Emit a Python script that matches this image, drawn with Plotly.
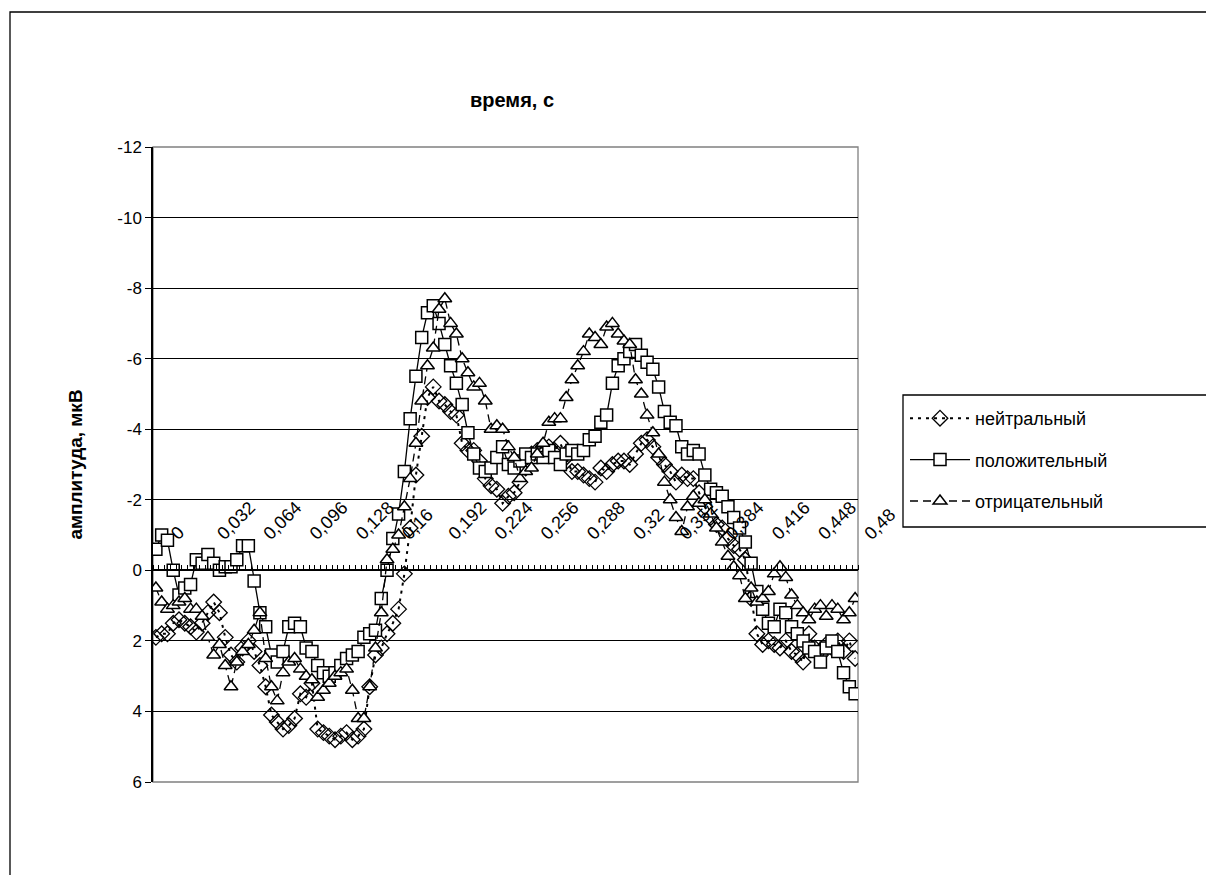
import plotly.graph_objects as go

# time categories (s), step 0.004
times = [round(i * 0.004, 3) for i in range(122)]
cat_labels = [("%g" % t).replace(".", ",") for t in times]
labelled_times = [0, 0.032, 0.064, 0.096, 0.128, 0.16, 0.192, 0.224, 0.256,
                  0.288, 0.32, 0.352, 0.384, 0.416, 0.448, 0.48]

neutral = [1.9, 1.8, 1.8, 1.5, 1.4, 1.5, 1.6, 1.75, 1.5, 1.2,
           0.9, 1.2, 1.9, 2.4, 2.6, 2.2, 2.0, 2.3, 2.7, 3.3,
           4.1, 4.3, 4.5, 4.4, 4.2, 3.5, 3.6, 3.2, 4.5, 4.6,
           4.7, 4.8, 4.7, 4.6, 4.8, 4.7, 4.5, 3.3, 2.4, 2.2,
           1.8, 1.5, 1.1, 0.1, -1.2, -2.7, -3.8, -4.9, -5.2, -4.8,
           -4.7, -4.5, -4.4, -3.6, -3.4, -3.4, -3.1, -2.6, -2.4, -2.3,
           -1.9, -2.1, -2.2, -2.5, -2.9, -3.3, -3.4, -3.5, -3.5, -3.4,
           -3.6, -3.2, -2.8, -2.8, -2.7, -2.6, -2.5, -2.9, -2.8, -3.0,
           -3.1, -3.1, -3.0, -3.3, -3.6, -3.7, -3.5, -3.2, -3.0, -2.8,
           -2.5, -2.7, -2.6, -2.6, -2.2, -1.8, -1.5, -1.3, -1.2, -0.9,
           -0.7, -0.6, -0.3, 0.8, 1.8, 2.1, 2.0, 2.1, 2.2, 2.0,
           2.3, 2.4, 2.6, 1.8, 2.2, 2.4, 2.1, 2.2, 2.0, 2.3,
           2.0, 2.5]

positive = [-0.6, -1.0, -0.85, 0.0, 0.7, 0.5, 0.4, -0.3, -0.2, -0.45,
            -0.2, 0.0, -0.1, -0.1, -0.3, -0.7, -0.7, 0.3, 1.2, 1.6,
            2.4, 2.6, 2.3, 1.6, 1.5, 1.6, 2.2, 2.3, 2.7, 2.9,
            3.0, 2.9, 2.7, 2.5, 2.4, 2.3, 1.9, 1.8, 1.7, 0.8,
            0.0, -0.9, -1.6, -2.8, -4.3, -5.5, -6.6, -7.3, -7.5, -7.0,
            -6.4, -5.8, -5.3, -4.7, -3.9, -3.3, -2.9, -2.8, -2.9, -3.2,
            -3.5, -3.0, -2.9, -3.1, -3.3, -3.2, -3.3, -3.2, -3.4, -3.2,
            -3.0, -3.3, -3.4, -3.3, -3.4, -3.7, -3.8, -4.2, -4.4, -5.3,
            -5.8, -6.0, -6.2, -6.4, -6.1, -5.9, -5.7, -5.2, -4.5, -4.2,
            -4.1, -3.5, -3.3, -3.4, -3.3, -2.7, -2.3, -2.2, -2.1, -1.8,
            -1.5, -1.2, -0.8, -0.2, 0.6, 1.1, 1.5, 1.6, 1.1, 1.2,
            1.6, 1.8, 2.0, 2.2, 2.3, 2.6, 2.2, 2.0, 2.3, 2.9,
            3.3, 3.5]

negative = [0.5, 0.9, 1.1, 1.0, 0.9, 0.8, 1.1, 1.1, 1.3, 1.9,
            2.4, 2.1, 2.7, 3.3, 2.6, 2.3, 2.1, 1.7, 1.2, 2.5,
            3.3, 3.7, 2.9, 2.6, 2.5, 2.8, 3.0, 3.1, 3.6, 3.4,
            3.2, 3.0, 2.9, 2.8, 3.4, 4.2, 4.2, 3.3, 2.2, 1.2,
            -0.3, -0.6, -1.0, -1.8, -2.6, -3.6, -4.8, -5.8, -6.3, -7.4,
            -7.7, -7.0, -6.7, -6.0, -5.6, -5.2, -5.3, -4.8, -4.0, -4.1,
            -4.0, -3.5, -3.2, -2.6, -2.8, -2.9, -3.3, -3.6, -4.2, -4.3,
            -4.3, -4.9, -5.4, -5.8, -6.2, -6.7, -6.6, -6.4, -6.9, -7.0,
            -6.7, -6.5, -6.4, -5.4, -5.0, -4.4, -3.9, -3.3, -2.5, -2.0,
            -1.5, -1.1, -1.8, -2.1, -1.9, -2.0, -1.6, -1.2, -0.8, -0.4,
            -0.1, 0.15, 0.8, 0.5, 0.9, 0.8, 0.6, 0.1, -0.1, 0.2,
            0.7, 1.0, 1.2, 1.4, 1.1, 1.0, 1.3, 1.0, 1.1, 1.4,
            1.2, 0.8]

y_ticks = [-12, -10, -8, -6, -4, -2, 0, 2, 4, 6]
y_ticktext = [str(v) for v in y_ticks]

FONT = "Liberation Sans, Arial, sans-serif"

# page is offset by the 8px body margin -> figure is 8px smaller
W, H = 1206, 867
ML, MR, MT, MB = 145, 1206 - 850, 139, 867 - 774
PW, PH = W - ML - MR, H - MT - MB


def px_x(x):  # figure pixel -> paper x
    return (x - ML) / PW


def px_y(y):  # figure pixel -> paper y
    return (H - MB - y) / PH


fig = go.Figure()
fig.add_trace(go.Scatter(
    x=cat_labels, y=neutral, name="нейтральный", mode="lines+markers",
    legendgroup="a",
    line=dict(color="black", width=2, dash="3px,5px"),
    marker=dict(symbol="diamond-open", size=12, color="black",
                line=dict(width=1.3, color="black"))))
fig.add_trace(go.Scatter(
    x=cat_labels, y=positive, name="положительный", mode="lines+markers",
    legendgroup="b",
    line=dict(color="black", width=1.3),
    marker=dict(symbol="square", size=12, color="white",
                line=dict(width=1.5, color="black"))))
fig.add_trace(go.Scatter(
    x=cat_labels, y=negative, name="отрицательный", mode="lines+markers",
    legendgroup="c",
    line=dict(color="black", width=1.3, dash="8px,5px"),
    marker=dict(symbol="triangle-up", size=12, color="white",
                line=dict(width=1.5, color="black"))))

tickvals = cat_labels
ticktext = [lab if t in labelled_times else "" for lab, t in zip(cat_labels, times)]

fig.update_layout(
    width=W, height=H,
    margin=dict(l=ML, r=MR, t=MT, b=MB),
    paper_bgcolor="white", plot_bgcolor="white",
    font=dict(family=FONT, color="black", size=16),
    showlegend=True,
    legend=dict(x=px_x(897), y=px_y(392), xanchor="left", yanchor="top",
                borderwidth=0, bgcolor="rgba(0,0,0,0)",
                font=dict(size=18, family=FONT), traceorder="grouped",
                tracegroupgap=15, itemwidth=60),
    xaxis=dict(type="category", anchor="free", position=1/3, side="top",
               tickmode="array", tickvals=tickvals, ticktext=ticktext,
               tickson="boundaries", ticks="outside", ticklen=5,
               tickcolor="black", tickwidth=1, tickangle=-45,
               ticklabelstandoff=19, ticklabelshift=16,
               tickfont=dict(size=18, family=FONT),
               showline=True, linecolor="black", linewidth=1.5,
               showgrid=False, zeroline=False,
               range=[-0.5, len(cat_labels) - 0.5]),
    yaxis=dict(range=[6, -12], tickmode="array", tickvals=y_ticks,
               ticktext=y_ticktext,
               ticks="outside", ticklen=6, tickcolor="black",
               showline=True, linecolor="black", linewidth=1.5,
               showgrid=True, gridcolor="black", gridwidth=1.3,
               zeroline=False, tickfont=dict(size=17, family=FONT),
               title=dict(text="<b>амплитуда, мкВ</b>", font=dict(size=19, family=FONT),
                          standoff=30)),
    annotations=[dict(text="<b>время, с</b>", xref="paper", yref="paper",
                      x=px_x(504), y=px_y(92), xanchor="center", yanchor="middle",
                      showarrow=False, font=dict(size=20, family=FONT))],
    shapes=[
        dict(type="rect", xref="paper", yref="paper", x0=0, y0=0, x1=1, y1=1,
             line=dict(color="#808080", width=1.3), layer="below"),
        dict(type="rect", xref="paper", yref="paper",
             x0=px_x(2), y0=px_y(880), x1=px_x(1220), y1=px_y(4),
             line=dict(color="black", width=1.3), layer="below"),
        # legend frame
        dict(type="rect", xref="paper", yref="paper",
             x0=px_x(895), y0=px_y(519), x1=px_x(1202), y1=px_y(387),
             line=dict(color="black", width=1.3), fillcolor="white",
             layer="below"),
    ],
)

fig.write_html("out.html")
